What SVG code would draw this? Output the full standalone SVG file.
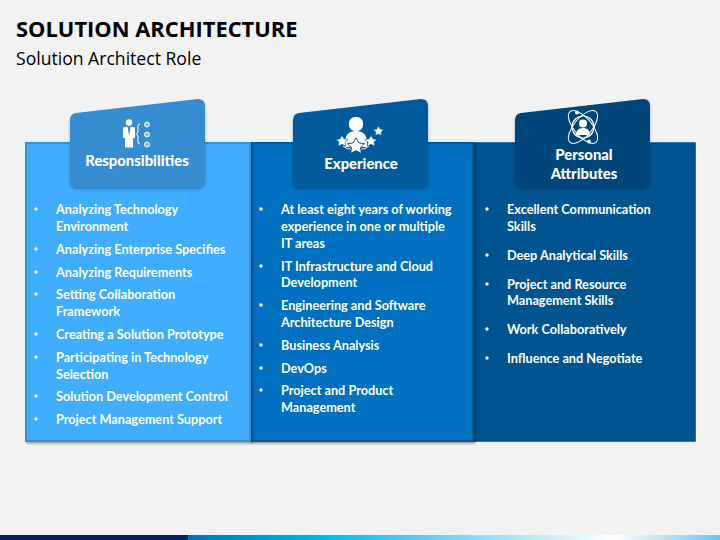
<svg xmlns="http://www.w3.org/2000/svg" width="720" height="540" viewBox="0 0 720 540">
<style>
text{font-family:"Open Sans","Noto Sans","Liberation Sans",sans-serif;fill:#fff}
.t{font-family:Lato,"Open Sans",sans-serif;font-size:12.700px;font-weight:700}
.h{font-family:Lato,"Open Sans",sans-serif;font-size:14.800px;font-weight:900;text-anchor:middle}
.i{fill:#fff;stroke:none}
.l{fill:none;stroke:#fff}
</style>
<defs>
<linearGradient id="bar" x1="0" x2="1" y1="0" y2="0"><stop offset="0" stop-color="#0070c0"/><stop offset=".23" stop-color="#00b0f0"/><stop offset=".8" stop-color="#fff"/><stop offset="1" stop-color="#6cc4ee"/></linearGradient>
<filter id="s" x="-10%" y="-10%" width="120%" height="125%"><feDropShadow dx="0" dy="2" stdDeviation="1.500" flood-color="#000" flood-opacity=".3"/></filter>
<filter id="p" x="-5%" y="-5%" width="110%" height="110%"><feDropShadow dx="1.500" dy="1.500" stdDeviation="1.200" flood-color="#000" flood-opacity=".4"/></filter>
<path id="star" d="M0-5 1.700-1.900 5.200-1.400 2.700 1.100 3.300 4.500 0 2.900-3.300 4.500-2.700 1.100-5.200-1.400-1.700-1.900Z"/>
</defs>
<rect width="720" height="540" fill="#f2f2f2"/>
<rect x="0" y="535" width="188" height="5" fill="#002060"/>
<rect x="188" y="535" width="532" height="5" fill="url(#bar)"/>
<text x="16" y="36.500" style="font-size:21.900px;font-weight:700;fill:#000">SOLUTION ARCHITECTURE</text>
<text x="16" y="65" style="font-size:17.600px;fill:#000">Solution Architect Role</text>

<g id="panel-3"><rect x="473" y="143" width="222" height="298" fill="#005591" stroke="#004a80" stroke-width="1.500"/></g>
<g id="panel-2"><rect x="251" y="143" width="222" height="298" fill="#0070c0" stroke="#005a9c" stroke-width="2" filter="url(#p)"/></g>
<g id="panel-1"><rect x="26" y="143" width="224" height="298" fill="#41adff" stroke="#3792d8" stroke-width="2" filter="url(#p)"/></g>

<g id="card-1">
<path d="M70 120Q70 114 76 113L198 99Q205 99 205 106V180Q205 187 198 187H77Q70 187 70 180Z" fill="#368ccf" filter="url(#s)"/>
<circle class="i" cx="129" cy="122.500" r="3.200"/>
<path class="i" d="M123 127.500 127.500 126.500 129 136 130.500 126.500 135 127.500V138H133V147.500H125V138H123Z"/>
<path d="M140 124Q138 124 138 126V132L136.500 134 138 136V142Q138 144 140 144" class="l" stroke-width="1"/>
<g fill="#8fbde0" stroke="#fff" stroke-width="1"><circle cx="147" cy="124.500" r="2.500"/><circle cx="147" cy="134.500" r="2.500"/><circle cx="147" cy="144.500" r="2.500"/></g>
<text class="h" x="137" y="165.500">Responsibilities</text>
</g>
<g id="card-2">
<path d="M293 120Q293 114 299 113L421 99Q428 99 428 106V180Q428 187 421 187H300Q293 187 293 180Z" fill="#005a9c" filter="url(#s)"/>
<circle class="i" cx="356" cy="124" r="7.300"/>
<path class="i" d="M345 143Q345 131 356 131Q367 131 367 143V147H345Z"/>
<path class="l" d="M343 146Q347 150 352 149M369 146Q365 150 360 149" stroke-width="1"/>
<g stroke="#005a9c" stroke-width=".6" fill="#fff"><use href="#star" transform="translate(356 146) scale(1.650)"/><use href="#star" transform="translate(342 141) scale(1.150)"/><use href="#star" transform="translate(371 141) scale(1.150)"/><use href="#star" transform="translate(378.500 131) scale(1)"/></g>
<text class="h" x="361" y="169">Experience</text>
</g>
<g id="card-3">
<path d="M515 120Q515 114 521 113L643 99Q650 99 650 106V180Q650 187 643 187H522Q515 187 515 180Z" fill="#004579" filter="url(#s)"/>
<circle class="l" cx="583" cy="127" r="11" stroke-width="1.200"/>
<ellipse class="l" cx="583" cy="127" rx="9" ry="20" transform="rotate(-40 583 127)" stroke-width="1"/>
<ellipse class="l" cx="583" cy="127" rx="9" ry="20" transform="rotate(40 583 127)" stroke-width="1"/>
<circle class="i" cx="583" cy="123.500" r="4"/>
<path class="i" d="M576 135Q576 128 583 128Q590 128 590 135Z"/>
<circle class="i" cx="577" cy="112.500" r="2"/><circle class="i" cx="589" cy="141.500" r="2"/>
<text class="h" x="584" y="160">Personal</text>
<text class="h" x="584" y="179">Attributes</text>
</g>

<g id="list-1">
<circle class="i" cx="36" cy="209" r="1.700"/><text class="t" x="56" y="214">Analyzing Technology</text><text class="t" x="56" y="231">Environment</text>
<circle class="i" cx="36" cy="249" r="1.700"/><text class="t" x="56" y="254">Analyzing Enterprise Specifies</text>
<circle class="i" cx="36" cy="272" r="1.700"/><text class="t" x="56" y="277">Analyzing Requirements</text>
<circle class="i" cx="36" cy="294" r="1.700"/><text class="t" x="56" y="299">Setting Collaboration</text><text class="t" x="56" y="316">Framework</text>
<circle class="i" cx="36" cy="334" r="1.700"/><text class="t" x="56" y="339">Creating a Solution Prototype</text>
<circle class="i" cx="36" cy="357" r="1.700"/><text class="t" x="56" y="362">Participating in Technology</text><text class="t" x="56" y="379">Selection</text>
<circle class="i" cx="36" cy="396" r="1.700"/><text class="t" x="56" y="401">Solution Development Control</text>
<circle class="i" cx="36" cy="419" r="1.700"/><text class="t" x="56" y="424">Project Management Support</text>
</g>
<g id="list-2">
<circle class="i" cx="261" cy="209" r="1.700"/><text class="t" x="281" y="214">At least eight years of working</text><text class="t" x="281" y="231">experience in one or multiple</text><text class="t" x="281" y="248">IT areas</text>
<circle class="i" cx="261" cy="266" r="1.700"/><text class="t" x="281" y="271">IT Infrastructure and Cloud</text><text class="t" x="281" y="287">Development</text>
<circle class="i" cx="261" cy="305" r="1.700"/><text class="t" x="281" y="310">Engineering and Software</text><text class="t" x="281" y="327">Architecture Design</text>
<circle class="i" cx="261" cy="345" r="1.700"/><text class="t" x="281" y="350">Business Analysis</text>
<circle class="i" cx="261" cy="368" r="1.700"/><text class="t" x="281" y="373">DevOps</text>
<circle class="i" cx="261" cy="390" r="1.700"/><text class="t" x="281" y="395">Project and Product</text><text class="t" x="281" y="412">Management</text>
</g>
<g id="list-3">
<circle class="i" cx="487" cy="209" r="1.700"/><text class="t" x="507" y="214">Excellent Communication</text><text class="t" x="507" y="231">Skills</text>
<circle class="i" cx="487" cy="255" r="1.700"/><text class="t" x="507" y="260">Deep Analytical Skills</text>
<circle class="i" cx="487" cy="284" r="1.700"/><text class="t" x="507" y="289">Project and Resource</text><text class="t" x="507" y="305">Management Skills</text>
<circle class="i" cx="487" cy="329" r="1.700"/><text class="t" x="507" y="334">Work Collaboratively</text>
<circle class="i" cx="487" cy="358" r="1.700"/><text class="t" x="507" y="363">Influence and Negotiate</text>
</g>
</svg>
